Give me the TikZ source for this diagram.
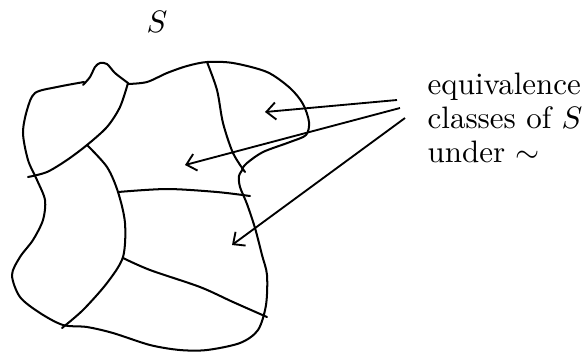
\documentclass[tikz,border=0pt]{standalone}
\usetikzlibrary{arrows.meta}
\tikzset{
  outline/.style={line width=0.65pt,line join=round,line cap=round},
  classarrow/.style={line width=0.6pt,-{Straight Barb[length=3pt,width=5.5pt]}},
}
\begin{document}
\begin{tikzpicture}[x=0.3225pt,y=-0.3225pt]
\useasboundingbox (0,0) rectangle (582,354);
\node (setname) at (157,22) {$S$};
% outer boundary
\draw[outline] plot[smooth] coordinates {(83,85) (90,77) (95,67) (100,63) (107,64) (115,73) (128,83)};
\draw[outline] plot[smooth] coordinates {(84,82) (57,87) (35,93) (27,110) (23,133) (28,160) (37,180) (45,200) (43,220) (33,240) (20,257) (12,275) (20,297) (40,313) (63,325) (87,327) (113,333) (150,345) (180,350) (207,350) (240,343) (258,330) (266,305) (267,275) (262,255) (255,228) (247,204) (240,187) (239,176) (243,169)};
\draw[outline] plot[smooth] coordinates {(128,84) (147,82) (167,73) (187,66) (207,62) (233,63) (267,72) (290,88) (303,104) (309,122) (306,135) (290,142) (263,152) (247,163) (242,169)};
% cuts between the classes
\draw[outline] plot[smooth] coordinates {(128,83) (120,107) (107,127) (87,145) (67,160) (47,172) (28,177)};
\draw[outline] plot[smooth] coordinates {(87,145) (107,167) (118,192) (125,223) (123,257) (107,283) (83,310) (62,328)};
\draw[outline] plot[smooth] coordinates {(118,192) (167,189) (217,192) (250,196)};
\draw[outline] plot[smooth] coordinates {(123,258) (150,270) (200,287) (233,302) (267,317)};
\draw[outline] plot[smooth] coordinates {(207,62) (217,90) (223,123) (233,153) (245,172)};
% label and arrows
\node[anchor=north west,inner sep=0pt,align=left] (classes) at (427,72) {equivalence\\[-0.9pt]classes of $S$\\[-0.9pt]under $\sim$};
\coordinate (tailA) at (397,100);
\coordinate (tailB) at (400,108);
\coordinate (tailC) at (405,118);
\coordinate (tipA) at (265,112);
\coordinate (tipB) at (185,165);
\coordinate (tipC) at (232,245);
\draw[classarrow] (tailA) -- (tipA);
\draw[classarrow] (tailB) -- (tipB);
\draw[classarrow] (tailC) -- (tipC);
\end{tikzpicture}
\end{document}
